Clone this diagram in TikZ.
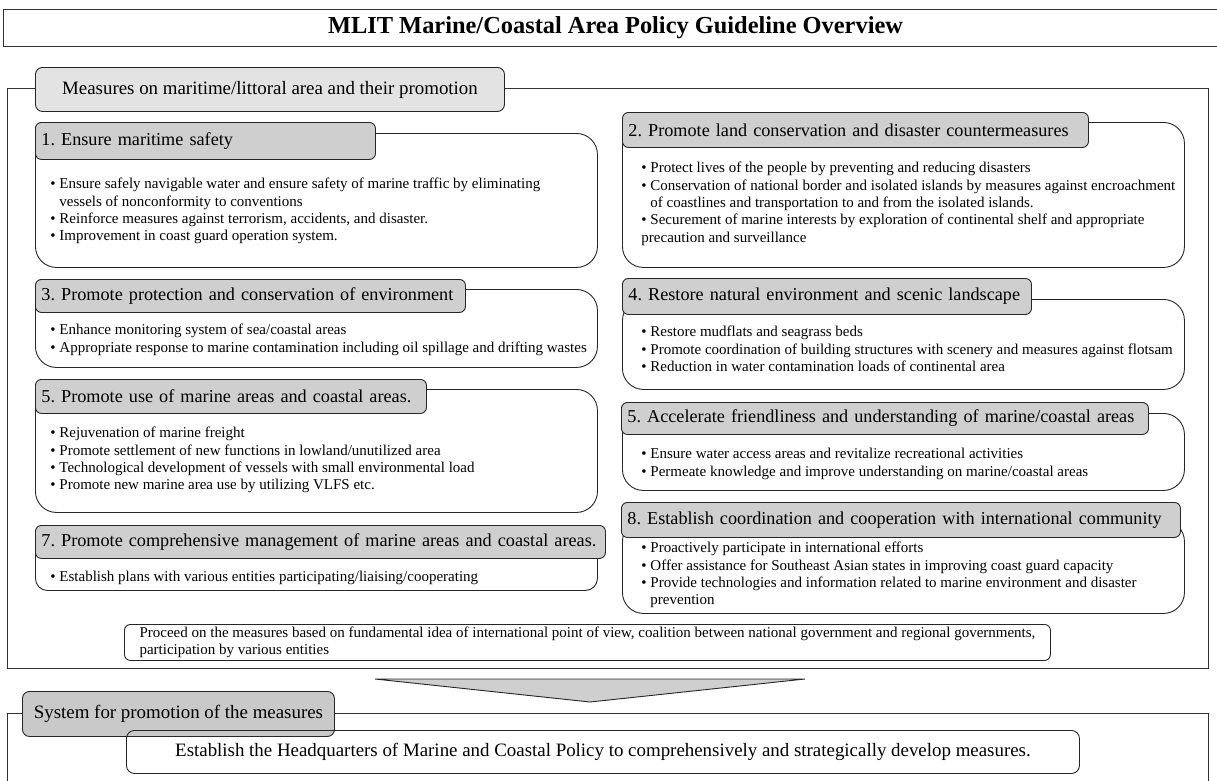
\documentclass[tikz,border=0pt]{standalone}
\usepackage{fontspec}
\setmainfont{Liberation Serif}
\usetikzlibrary{positioning, calc}
\newcommand{\cont}{\phantom{\textbullet\ }}
\frenchspacing

\begin{document}
\begin{tikzpicture}[x=1pt,y=1pt,line width=0.9pt,
  frm/.style={draw=black!80,anchor=north west,inner sep=0pt,minimum width=1201pt},
  tab/.style={draw=black!85,rounded corners=7pt,fill=black!11,font=\fontsize{18.9}{21}\selectfont,anchor=north west,inner sep=0pt},
  hd/.style={draw=black!85,rounded corners=6pt,fill=black!19,font=\fontsize{18.2}{21}\selectfont,align=left,inner xsep=6pt,inner ysep=0pt,anchor=north west},
  body/.style={draw=black!85,rounded corners=21pt,anchor=north west,inner sep=0pt},
  lst/.style={align=left,inner sep=0pt,font=\fontsize{15}{17.3}\selectfont},
  note/.style={draw=black!85,rounded corners=6pt,anchor=north west,inner sep=0pt}]
  \useasboundingbox (0,0) rectangle (1217,-780);

  % title
  \node[draw=black!80,minimum width=1225pt,minimum height=37pt,inner sep=0pt,font=\fontsize{24.4}{28}\selectfont\bfseries] (ttl) at (615.5,-27.5) {MLIT Marine/Coastal Area Policy Guideline Overview};

  % measures frame
  \node[frm,minimum height=580pt] (mframe) at (7,-88) {};
  \node[tab,minimum width=469pt,minimum height=44pt] (mtab) at (35,-67) {Measures on maritime/littoral area and their promotion};

  % left column
  \node[body,minimum width=562pt,minimum height=134pt] (b1) at (35,-133) {};
  \node[hd,text width=328pt,minimum height=37pt] (h1) at (35,-122) {\mbox{1. Ensure maritime safety}};
  \node[lst,below right=18pt and 15pt of h1.south west] (l1) {\textbullet\ Ensure safely navigable water and ensure safety of marine traffic by eliminating\\
    \cont vessels of nonconformity to conventions\\
    \textbullet\ Reinforce measures against terrorism, accidents, and disaster.\\
    \textbullet\ Improvement in coast guard operation system.};

  \node[body,minimum width=562pt,minimum height=78pt] (b3) at (35,-289) {};
  \node[hd,text width=418pt,minimum height=33pt] (h3) at (35,-279) {\mbox{3. Promote protection and conservation of environment}};
  \node[lst,below right=11pt and 15pt of h3.south west] (l3) {\textbullet\ Enhance monitoring system of sea/coastal areas\\
    \textbullet\ Appropriate response to marine contamination including oil spillage and drifting wastes};

  \node[body,minimum width=562pt,minimum height=123pt] (b5) at (35,-389) {};
  \node[hd,text width=379pt,minimum height=34pt] (h5) at (35,-379) {\mbox{5. Promote use of marine areas and coastal areas.}};
  \node[lst,below right=13pt and 15pt of h5.south west] (l5) {\textbullet\ Rejuvenation of marine freight\\
    \textbullet\ Promote settlement of new functions in lowland/unutilized area\\
    \textbullet\ Technological development of vessels with small environmental load\\
    \textbullet\ Promote new marine area use by utilizing VLFS etc.};

  \node[body,rounded corners=12pt,minimum width=562pt,minimum height=55pt] (b7) at (35,-535) {};
  \node[hd,text width=558pt,minimum height=33pt] (h7) at (35,-525) {\mbox{7. Promote comprehensive management of marine areas and coastal areas.}};
  \node[lst,below right=12pt and 15pt of h7.south west] (l7) {\textbullet\ Establish plans with various entities participating/liaising/cooperating};

  % right column
  \node[body,minimum width=562pt,minimum height=145pt] (b2) at (622,-122) {};
  \node[hd,text width=454pt,minimum height=35pt] (h2) at (622,-112) {\mbox{2. Promote land conservation and disaster countermeasures}};
  \node[lst,below right=14pt and 19pt of h2.south west] (l2) {\textbullet\ Protect lives of the people by preventing and reducing disasters\\
    \textbullet\ Conservation of national border and isolated islands by measures against encroachment\\
    \cont of coastlines and transportation to and from the isolated islands.\\
    \textbullet\ Securement of marine interests by exploration of continental shelf and appropriate\\
    precaution and surveillance};

  \node[body,minimum width=562pt,minimum height=90pt] (b4) at (622,-299) {};
  \node[hd,text width=397pt,minimum height=36pt] (h4) at (622,-278) {\mbox{4. Restore natural environment and scenic landscape}};
  \node[lst,below right=11pt and 19pt of h4.south west] (l4) {\textbullet\ Restore mudflats and seagrass beds\\
    \textbullet\ Promote coordination of building structures with scenery and measures against flotsam\\
    \textbullet\ Reduction in water contamination loads of continental area};

  \node[body,minimum width=562pt,minimum height=77pt] (b6) at (622,-413) {};
  \node[hd,text width=515pt,minimum height=32pt] (h6) at (621,-402) {\mbox{5. Accelerate friendliness and understanding of marine/coastal areas}};
  \node[lst,below right=13pt and 20pt of h6.south west] (l6) {\textbullet\ Ensure water access areas and revitalize recreational activities\\
    \textbullet\ Permeate knowledge and improve understanding on marine/coastal areas};

  \node[body,minimum width=562pt,minimum height=93pt] (b8) at (622,-520) {};
  \node[hd,text width=547pt,minimum height=35pt] (h8) at (621,-502) {\mbox{8. Establish coordination and cooperation with international community}};
  \node[lst,below right=4pt and 20pt of h8.south west] (l8) {\textbullet\ Proactively participate in international efforts\\
    \textbullet\ Offer assistance for Southeast Asian states in improving coast guard capacity\\
    \textbullet\ Provide technologies and information related to marine environment and disaster\\
    \cont prevention};

  \node[note,align=left,minimum width=926pt,minimum height=36pt,font=\fontsize{15}{17}\selectfont] (prc) at (124,-624) {Proceed on the measures based on fundamental idea of international point of view, coalition between national government and regional governments,\\
    participation by various entities};

  % arrow down to the promotion system
  \draw[draw=black!85,fill=black!19] (375,-679) -- (805,-679) -- (590,-702) -- cycle;

  % promotion system frame
  \node[frm,minimum height=90pt] (sframe) at (7,-713) {};
  \node[tab,fill=black!21,minimum width=312pt,minimum height=45pt] (stab) at (22,-691) {System for promotion of the measures};
  \node[note,rounded corners=8pt,minimum width=953pt,minimum height=43pt,font=\fontsize{18.9}{21}\selectfont] (hq) at (126,-730) {Establish the Headquarters of Marine and Coastal Policy to comprehensively and strategically develop measures.};
\end{tikzpicture}
\end{document}
